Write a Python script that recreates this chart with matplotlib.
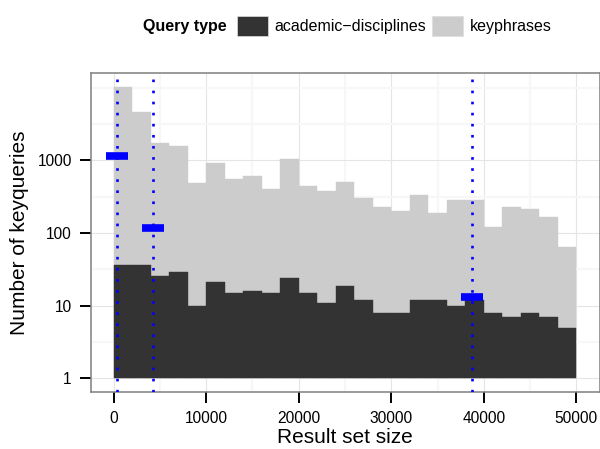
import numpy as np
import matplotlib
matplotlib.use('Agg')
import matplotlib.pyplot as plt
from matplotlib.patches import Patch
from matplotlib.ticker import FixedLocator, FixedFormatter, NullFormatter

plt.rcParams['font.family'] = ['Liberation Sans', 'DejaVu Sans']

# histogram of result set sizes, binwidth 2000
bin_starts = np.arange(0, 50000, 2000)
binwidth = 2000
keyphrases = [10400, 4700, 1750, 1600, 490, 930, 560, 615, 405, 1050, 450, 380, 510,
              305, 230, 203, 337, 190, 288, 288, 122, 230, 216, 168, 65]
academic = [36, 37, 26, 29, 10, 21, 15, 16, 15, 24, 15, 11, 19,
            12, 8, 8, 12, 12, 10, 12, 8, 7, 8, 7, 5]

# medians (dotted lines) and the count at each median (blue dashes)
median_x = [370, 4250, 38700]
median_y = [1170, 118, 13.2]

y_breaks = [1, 10, 100, 1000]
y_minor = [10 ** 0.5, 10 ** 1.5, 10 ** 2.5, 10 ** 3.5, 10 ** 4]
x_breaks = [0, 10000, 20000, 30000, 40000, 50000]
x_minor = [5000, 15000, 25000, 35000, 45000]

DARK = '#333333'
LIGHT = '#CCCCCC'

fig = plt.figure(figsize=(6, 4.49), dpi=100)
ax = fig.add_axes([90.5 / 600, 1 - 392.3 / 449, 509 / 600, 319 / 449])

ax.set_yscale('log')
kp = np.array(keyphrases, dtype=float)
ac = np.array(academic, dtype=float)
ax.bar(bin_starts, kp - 1, bottom=1, width=binwidth, align='edge',
       color=LIGHT, edgecolor=LIGHT, linewidth=0.3, zorder=2)
ax.bar(bin_starts, ac - 1, bottom=1, width=binwidth, align='edge',
       color=DARK, edgecolor=DARK, linewidth=0.3, zorder=2)

for x in median_x:
    ax.axvline(x, color='blue', linewidth=1.9, linestyle=(0, (1, 3.2)),
               dash_capstyle='butt', zorder=3)
ax.plot(median_x, median_y, linestyle='none', marker='_', markersize=16.5,
        markeredgewidth=5.5, color='blue', zorder=4)

ax.set_xlim(-2500, 52500)
ax.set_ylim(10 ** -0.19, 10 ** 4.2)

ax.yaxis.set_major_locator(FixedLocator(y_breaks))
ax.yaxis.set_major_formatter(FixedFormatter([str(b) for b in y_breaks]))
ax.yaxis.set_minor_locator(FixedLocator(y_minor))
ax.yaxis.set_minor_formatter(NullFormatter())
ax.xaxis.set_major_locator(FixedLocator(x_breaks))
ax.xaxis.set_major_formatter(FixedFormatter([str(b) for b in x_breaks]))
ax.xaxis.set_minor_locator(FixedLocator(x_minor))

ax.set_axisbelow(True)
ax.grid(which='major', color='#E5E5E5', linewidth=0.8)
ax.grid(which='minor', color='#F7F7F7', linewidth=1.5)

ax.tick_params(which='major', length=8, width=1.4, color='black',
               labelsize=11.2, pad=5.5, labelcolor='black')
ax.tick_params(which='minor', length=0)
for s in ax.spines.values():
    s.set_color('#7F7F7F')
    s.set_linewidth(1.1)

ax.set_xlabel('Result set size', fontsize=15, labelpad=1.5)
ax.set_ylabel('Number of keyqueries', fontsize=15, labelpad=6)

# legend across the top
handles = [Patch(facecolor=DARK, edgecolor='#DDDDDD', linewidth=0.5),
           Patch(facecolor=LIGHT, edgecolor='#DDDDDD', linewidth=0.5)]
fig.legend(handles, ['academic\u2212disciplines', 'keyphrases'],
           loc='center left', bbox_to_anchor=(237 / 600, 1 - 26 / 449),
           ncol=2, frameon=False, fontsize=11.5, handlelength=1.95,
           handleheight=1.55, handletextpad=0.4, columnspacing=0.35,
           borderpad=0, borderaxespad=0)
fig.text(227 / 600, 1 - 26 / 449, 'Query type', ha='right', va='center',
         fontweight='bold', fontsize=11.5)

fig.savefig('out.png', dpi=100)
